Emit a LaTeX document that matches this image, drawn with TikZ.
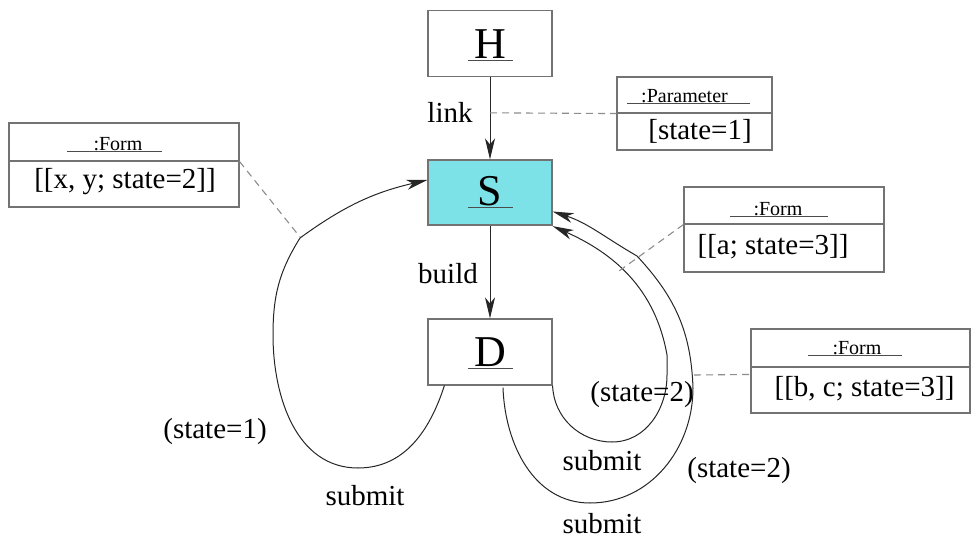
\documentclass[tikz,border=0pt]{standalone}
\usepackage{fontspec}
\setmainfont{Liberation Serif}
\usetikzlibrary{arrows.meta}
\definecolor{stcyan}{RGB}{124,226,231}
\begin{document}
\begin{tikzpicture}[x=1pt,y=1pt,
  every node/.style={font=\fontsize{29}{34}\selectfont, inner sep=0pt},
  statebox/.style={draw=black!55, line width=1.2pt, minimum width=124pt, minimum height=66pt},
  bigname/.style={font=\fontsize{44}{50}\selectfont, anchor=base},
  cell/.style={draw=black!55, line width=1.1pt},
  cellname/.style={font=\fontsize{20}{24}\selectfont, anchor=base},
  flow/.style={draw=black!85, line width=1pt, -{Stealth[length=21pt,width=10pt,inset=6pt]}},
  notelink/.style={draw=black!45, line width=1.1pt, dash pattern=on 7pt off 5pt},
  uline/.style={draw=black!70, line width=1.3pt}]
\useasboundingbox (0,0) rectangle (972,-541);

% states
\node[statebox] (H) at (490,-43.5) {};
\node[bigname] (Hl) at (490,-58) {H};
\node[statebox, fill=stcyan, minimum height=65pt] (S) at (490,-192.5) {};
\node[bigname] (Sl) at (490,-205) {S};
\node[statebox] (D) at (490,-352) {};
\node[bigname] (Dl) at (490,-366) {D};
\foreach \n in {Hl,Sl,Dl}
  \draw[uline] ([xshift=-22.5pt,yshift=-2.5pt]\n.base) -- ([xshift=22.5pt,yshift=-2.5pt]\n.base);

% object boxes: name compartment over value compartment
\node[cell, minimum width=230pt, minimum height=38pt] (f1t) at (124,-142) {};
\node[cell, minimum width=230pt, minimum height=46pt] (f1b) at (124,-184) {};
\node[cellname] (f1n) at (118,-150) {:Form};
\node (f1v) at (125,-182) {[[x, y; state=2]]};
\draw[uline, line width=1pt] ([xshift=-51pt,yshift=-1pt]f1n.base) -- ([xshift=44pt,yshift=-1pt]f1n.base);

\node[cell, minimum width=155pt, minimum height=36pt] (pt) at (694.5,-95) {};
\node[cell, minimum width=155pt, minimum height=37pt] (pb) at (694.5,-131.5) {};
\node[cellname] (pn) at (684.5,-102) {:Parameter};
\node (pv) at (700,-131) {[state=1]};
\draw[uline, line width=1pt] ([xshift=-57.5pt,yshift=-1pt]pn.base) -- ([xshift=65.5pt,yshift=-1pt]pn.base);

\node[cell, minimum width=200pt, minimum height=37pt] (f2t) at (784,-205.5) {};
\node[cell, minimum width=200pt, minimum height=48pt] (f2b) at (784,-248) {};
\node[cellname] (f2n) at (778,-215) {:Form};
\node (f2v) at (773,-247) {[[a; state=3]]};
\draw[uline, line width=1pt] ([xshift=-48pt,yshift=-1pt]f2n.base) -- ([xshift=50pt,yshift=-1pt]f2n.base);

\node[cell, minimum width=219pt, minimum height=38pt] (f3t) at (860.5,-348) {};
\node[cell, minimum width=219pt, minimum height=46pt] (f3b) at (860.5,-390) {};
\node[cellname] (f3n) at (857,-354) {:Form};
\node (f3v) at (864.5,-389) {[[b, c; state=3]]};
\draw[uline, line width=1pt] ([xshift=-49pt,yshift=-1pt]f3n.base) -- ([xshift=45pt,yshift=-1pt]f3n.base);

% straight transitions
\draw[flow] (H) -- (S) coordinate[pos=0.434] (lk);
\node (link) at (450,-112) {link};
\draw[flow] (S) -- (D);
\node (build) at (448,-274) {build};

% submit back to S, left loop
\coordinate (k1) at (300,-238);
\draw[flow] ([xshift=17pt]D.south west) to[out=-108,in=0] (358,-468)
  to[out=180,in=-90] (273,-335) to[out=90,in=-122] (k1)
  to[out=36,in=-167] ([yshift=12.5pt]S.west);
\node (st1) at (215,-432) {(state=1)};
\node (sub1) at (365,-496) {submit};

% submit back to S, inner right loop
\coordinate (k2) at (667,-355);
\draw[flow] (D.south east) to[out=-88,in=180] (612,-442)
  to[out=0,in=-90] (667,-375) -- (k2)
  to[out=100,in=-24] ([yshift=-0.5pt]S.south east);
\node (st2) at (642,-395) {(state=2)};
\node (sub2) at (602,-461) {submit};

% submit back to S, outer right loop
\coordinate (k3) at (637,-256);
\draw[flow] ([xshift=13pt,yshift=-2pt]D.south) to[out=-88,in=180] (590,-503)
  to[out=0,in=-90] (693,-388) to[out=92,in=-47] (k3)
  to[out=150,in=-18] ([yshift=-19pt]S.east);
\node (st3) at (739,-471) {(state=2)};
\node (sub3) at (602,-524) {submit};

% note attachments
\coordinate (n1) at (300,-237);
\draw[notelink] (f1t.south east) -- (n1);
\draw[notelink] (lk) -- (pt.south west);
\coordinate (n2) at (619,-271);
\draw[notelink] (f2t.south west) -- (n2);
\coordinate (n3) at (694,-375);
\draw[notelink] (n3) -- ([yshift=-8pt]f3b.north west);
\end{tikzpicture}
\end{document}
